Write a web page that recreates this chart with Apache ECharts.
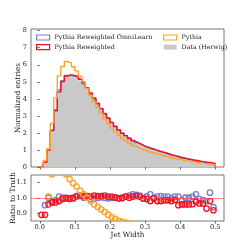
<!DOCTYPE html>
<html><head><meta charset="utf-8">
<script src="https://cdn.jsdelivr.net/npm/echarts@6/dist/echarts.min.js"></script>
<style>html,body{margin:0;padding:0;background:#fff}#c{width:249px;height:249px}</style>
</head><body><div id="c"></div><script>
// Bin edges of the Jet Width histograms
const binEdges = [0.00,0.01,0.02,0.03,0.04,0.05,0.06,0.07,0.08,0.09,0.10,0.11,0.12,0.13,0.14,0.15,0.16,0.17,0.18,0.19,0.20,
  0.21,0.22,0.23,0.24,0.25,0.26,0.27,0.28,0.29,0.30,0.31,0.32,0.33,0.34,0.35,0.36,0.37,0.38,0.39,0.40,
  0.41,0.42,0.43,0.44,0.45,0.46,0.47,0.48,0.49,0.50];

// Normalized entries per bin
const dataHerwig = [0.05,0.30,1.05,2.20,3.40,4.50,5.05,5.36,5.43,5.36,5.25,5.08,4.88,4.60,4.30,4.00,3.70,3.40,3.10,2.85,
  2.60,2.38,2.18,1.98,1.82,1.67,1.53,1.41,1.32,1.23,1.15,1.08,1.02,0.95,0.89,0.83,0.76,0.70,0.65,0.60,
  0.55,0.50,0.46,0.42,0.38,0.34,0.31,0.28,0.25,0.22];
const pythia = [0.08,0.38,1.06,2.55,4.06,5.35,5.90,6.20,6.10,5.88,5.64,5.32,5.00,4.61,4.21,3.83,3.49,3.15,2.82,2.54,
  2.28,2.06,1.86,1.67,1.53,1.39,1.26,1.16,1.07,0.98,0.91,0.85,0.80,0.74,0.685,0.63,0.57,0.525,0.48,0.44,
  0.40,0.36,0.33,0.30,0.27,0.24,0.21,0.19,0.17,0.15];
const pythiaReweighted = [0.045,0.27,1.00,2.14,3.30,4.41,5.01,5.34,5.41,5.34,5.32,5.15,4.94,4.66,4.34,4.06,3.75,3.44,3.15,2.88,
  2.62,2.38,2.17,1.98,1.84,1.67,1.54,1.43,1.33,1.23,1.14,1.06,1.02,0.93,0.87,0.82,0.75,0.69,0.64,0.57,
  0.53,0.48,0.44,0.40,0.37,0.33,0.30,0.26,0.245,0.20];
const pythiaOmniLearn = [0.04,0.286,1.052,2.147,3.356,4.54,5.06,5.37,5.39,5.37,5.30,5.16,4.89,4.64,4.27,3.99,3.70,3.42,3.11,2.84,
  2.60,2.39,2.18,1.98,1.84,1.70,1.57,1.44,1.34,1.23,1.16,1.11,1.02,0.96,0.90,0.84,0.77,0.70,0.66,0.61,
  0.54,0.50,0.46,0.42,0.39,0.34,0.31,0.27,0.26,0.21];

// Ratio to truth per bin
const ratioOmniLearn = [0.80,0.953,1.002,0.976,0.987,1.009,1.002,1.002,0.993,1.002,1.009,1.016,1.002,1.009,0.993,0.997,1.000,1.005,1.002,0.998,
  1.000,1.005,1.000,0.998,1.009,1.016,1.024,1.020,1.016,0.997,1.010,1.024,1.002,1.009,1.013,1.009,1.009,0.997,1.009,1.009,
  0.987,1.002,1.002,1.009,1.024,0.993,0.987,0.980,1.035,0.940];
const ratioReweighted = [0.890,0.890,0.958,0.971,0.971,0.980,0.993,0.997,0.997,0.997,1.013,1.013,1.013,1.013,1.009,1.016,1.013,1.013,1.016,1.009,
  1.009,1.002,0.997,1.002,1.009,1.002,1.009,1.013,1.009,0.997,0.993,0.980,0.997,0.980,0.980,0.985,0.985,0.980,0.987,0.953,
  0.958,0.958,0.958,0.960,0.976,0.964,0.964,0.931,0.980,0.920];
const ratioPythia = [1.60,1.27,1.009,1.155,1.19,1.19,1.17,1.155,1.123,1.097,1.075,1.047,1.024,1.002,0.980,0.958,0.942,0.926,0.909,0.891,
  0.876,0.864,0.851,0.845,0.840,0.835,0.830,0.820,0.810,0.800,0.795,0.790,0.780,0.780,0.770,0.760,0.750,0.750,0.740,0.730,
  0.730,0.720,0.710,0.710,0.700,0.700,0.690,0.690,0.680,0.680];

// Tick labels
const xTicks = [0.0,0.1,0.2,0.3,0.4,0.5];
const yTicksMain = [0,1,2,3,4,5,6,7,8];
const yTicksRatio = [0.9,1.0,1.1];

const names = ['Pythia Reweighted OmniLearn','Pythia Reweighted','Pythia','Data (Herwig)'];
const colors = {omni:'#7b7bcc', rew:'#f2111d', py:'#ffa126', data:'#c9c9c9'};
const FONT = 'DejaVu Serif';

function stepData(vals){
  const n = vals.length;
  const pts = [[binEdges[0], 0]];
  for (let k = 0; k < n; k++) pts.push([binEdges[k], vals[k]]);
  pts.push([binEdges[n], vals[n-1]]);
  pts.push([binEdges[n], 0]);
  return pts;
}
function ratioData(vals){
  return vals.map((v,k)=>[(binEdges[k]+binEdges[k+1])/2, v]);
}
function circleSeries(name, vals, color, extra){
  return Object.assign({
    name, type:'custom', xAxisIndex:1, yAxisIndex:1, clip:true,
    data: ratioData(vals),
    encode:{x:0,y:1},
    renderItem:(params, api)=>{
      const p = api.coord([api.value(0), api.value(1)]);
      return {type:'circle', shape:{cx:p[0], cy:p[1], r:2.7},
        style:{fill:'none', stroke:color, lineWidth:1.3}};
    }
  }, extra||{});
}
const histLine = (name, vals, color, z)=>({
  name, type:'line', xAxisIndex:0, yAxisIndex:0, step:'end', symbol:'none',
  data: stepData(vals), lineStyle:{color, width:1.4}, itemStyle:{color}, z
});

const fmt1 = v => Number(v).toFixed(1);
const axisFont = {fontFamily:FONT, fontSize:6.6, color:'#222'};
const nameFont = {fontFamily:FONT, fontSize:7.2, color:'#222'};
const tickStyle = {show:true, length:2.5, lineStyle:{color:'#444', width:0.8}};
const legendText = {fontFamily:FONT, fontSize:6.3, color:'#222', lineHeight:7};

const option = {
  animation:false,
  backgroundColor:'#fff',
  grid:[
    {left:31, top:29, width:193, height:138, show:true, borderColor:'#555', borderWidth:0.8},
    {left:31, top:175, width:193, height:46, show:true, borderColor:'#555', borderWidth:0.8}
  ],
  legend:[
    {left:36, top:34, padding:0, orient:'vertical', itemWidth:13, itemHeight:5, itemGap:2.6,
     textStyle:legendText, selectedMode:false,
     data:[
      {name:names[0], icon:'rect', itemStyle:{color:'rgba(0,0,0,0)', borderColor:colors.omni, borderWidth:1.2}},
      {name:names[1], icon:'rect', itemStyle:{color:'rgba(0,0,0,0)', borderColor:colors.rew, borderWidth:1.2}}
     ]},
    {left:163, top:34, padding:0, orient:'vertical', itemWidth:13, itemHeight:5, itemGap:2.6,
     textStyle:legendText, selectedMode:false,
     data:[
      {name:names[2], icon:'rect', itemStyle:{color:'rgba(0,0,0,0)', borderColor:colors.py, borderWidth:1.2}},
      {name:names[3], icon:'rect', itemStyle:{color:colors.data, borderWidth:0}}
     ]}
  ],
  xAxis:[
    {gridIndex:0, type:'value', min:-0.025, max:0.525, axisLine:{show:false},
     axisTick:Object.assign({customValues:xTicks}, tickStyle), axisLabel:{show:false, customValues:xTicks}, splitLine:{show:false}},
    {gridIndex:1, type:'value', min:-0.025, max:0.525, axisLine:{show:false},
     axisTick:Object.assign({customValues:xTicks}, tickStyle),
     axisLabel:Object.assign({customValues:xTicks, margin:3, formatter:fmt1}, axisFont),
     splitLine:{show:false}, name:'Jet Width', nameLocation:'middle', nameGap:11, nameMoveOverlap:false, nameTextStyle:nameFont}
  ],
  yAxis:[
    {gridIndex:0, type:'value', min:0, max:8.1, axisLine:{show:false},
     axisTick:Object.assign({customValues:yTicksMain}, tickStyle),
     axisLabel:Object.assign({customValues:yTicksMain, margin:4}, axisFont),
     splitLine:{show:false}, name:'Normalized entries', nameLocation:'middle', nameRotate:90, nameGap:9, nameMoveOverlap:false, nameTextStyle:nameFont},
    {gridIndex:1, type:'value', min:0.85, max:1.15, axisLine:{show:false},
     axisTick:Object.assign({customValues:yTicksRatio}, tickStyle),
     axisLabel:Object.assign({customValues:yTicksRatio, margin:4, formatter:fmt1}, axisFont),
     splitLine:{show:false}, name:'Ratio to Truth', nameLocation:'middle', nameRotate:90, nameGap:14.5, nameMoveOverlap:false, nameTextStyle:nameFont}
  ],
  series:[
    {name:names[3], type:'line', xAxisIndex:0, yAxisIndex:0, step:'end', symbol:'none',
     data:stepData(dataHerwig), lineStyle:{width:0, color:colors.data}, itemStyle:{color:colors.data},
     areaStyle:{color:colors.data, opacity:1}, z:1},
    histLine(names[0], pythiaOmniLearn, colors.omni, 2),
    histLine(names[1], pythiaReweighted, colors.rew, 3),
    histLine(names[2], pythia, colors.py, 4),
    circleSeries('ratio OmniLearn', ratioOmniLearn, colors.omni, {z:2,
      markLine:{silent:true, symbol:'none', label:{show:false}, animation:false,
        lineStyle:{color:'rgba(255,70,70,0.7)', width:0.9, type:'solid'}, data:[{yAxis:1}]}}),
    circleSeries('ratio Reweighted', ratioReweighted, colors.rew, {z:3}),
    circleSeries('ratio Pythia', ratioPythia, colors.py, {z:4})
  ]
};
const chart = echarts.init(document.getElementById('c'), null, {renderer:'canvas'});
chart.setOption(option);
</script></body></html>
